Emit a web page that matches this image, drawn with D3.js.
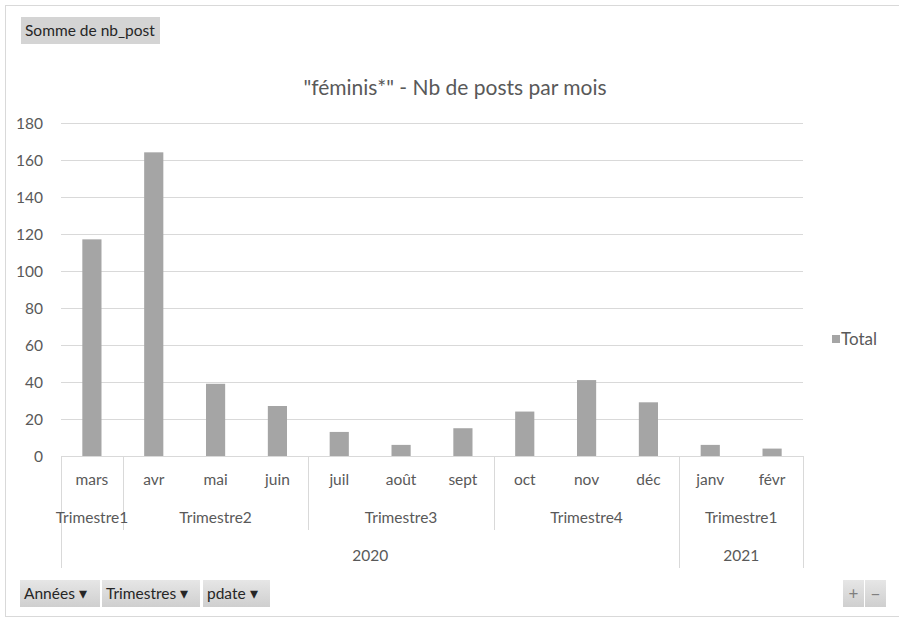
<!DOCTYPE html>
<html><head><meta charset="utf-8">
<script src="https://cdn.jsdelivr.net/npm/d3@7/dist/d3.min.js"></script>
<style>
html,body{margin:0;padding:0;background:#fff;}
svg text{font-family:Lato,"Open Sans",sans-serif;fill:#595959;}
</style></head>
<body><svg id="c" width="899" height="620"></svg>
<script>
const months = ["mars","avr","mai","juin","juil","août","sept","oct","nov","déc","janv","févr"];
const values = [117,164,39,27,13,6,15,24,41,29,6,4];
const quarters = [
  {label:"Trimestre1", start:0, end:1},
  {label:"Trimestre2", start:1, end:4},
  {label:"Trimestre3", start:4, end:7},
  {label:"Trimestre4", start:7, end:10},
  {label:"Trimestre1", start:10, end:12}
];
const years = [
  {label:"2020", start:0, end:10},
  {label:"2021", start:10, end:12}
];
const yTicks = [0,20,40,60,80,100,120,140,160,180];
const title = "\"féminis*\" - Nb de posts par mois";
const seriesName = "Total";
const fieldButtons = ["Années","Trimestres","pdate"];

const svg = d3.select("#c");
const L = 61, R = 803, T = 122.7, B = 456;
const FS = 15.5;

// frame
svg.append("rect").attr("x",5.5).attr("y",5.5).attr("width",900).attr("height",611)
  .attr("fill","none").attr("stroke","#d9d9d9");

const x = d3.scaleBand().domain(d3.range(months.length)).range([L,R]).paddingInner(0.69).paddingOuter(0.345);
const xEdge = d3.scaleLinear().domain([0,months.length]).range([L,R]);
const y = d3.scaleLinear().domain([0,180]).range([B,T]);

// gridlines
svg.append("g").selectAll("line").data(yTicks.filter(d=>d>0)).join("line")
  .attr("x1",L).attr("x2",R).attr("y1",d=>Math.round(y(d))+0.5).attr("y2",d=>Math.round(y(d))+0.5)
  .attr("stroke","#d9d9d9").attr("stroke-width",1);

// y axis labels
const yAxis = d3.axisLeft(y).tickValues(yTicks).tickSize(0).tickPadding(0);
const ya = svg.append("g").attr("transform","translate(43,0)").call(yAxis);
ya.select(".domain").remove();
ya.selectAll("text").attr("font-size",FS).attr("font-family","Lato,sans-serif").attr("fill","#595959").attr("dy","0.35em");

// bars
svg.append("g").selectAll("rect").data(values).join("rect")
  .attr("x",(d,i)=>x(i)).attr("width",x.bandwidth())
  .attr("y",d=>y(d)).attr("height",d=>B-y(d))
  .attr("fill","#a5a5a5");

// baseline
svg.append("line").attr("x1",L).attr("x2",R).attr("y1",B+0.5).attr("y2",B+0.5).attr("stroke","#d9d9d9");

// hierarchical x axis
const g = svg.append("g");
const yMonth = 480, yQ = 518, yYear = 556;
const qBottom = 530, yrBottom = 568;
const div = [];
quarters.forEach(q=>div.push(q.start));
div.push(months.length);
const yearStarts = years.map(d=>d.start).concat([months.length]);
[...new Set(div)].forEach(k=>{
  const isYear = yearStarts.includes(k);
  g.append("line").attr("x1",Math.round(xEdge(k))+0.5).attr("x2",Math.round(xEdge(k))+0.5)
    .attr("y1",B).attr("y2",isYear?yrBottom:qBottom).attr("stroke","#d9d9d9");
});
g.selectAll("text.m").data(months).join("text").attr("class","m")
  .attr("x",(d,i)=>x(i)+x.bandwidth()/2).attr("y",yMonth).attr("dy","0.35em")
  .attr("text-anchor","middle").attr("font-size",FS).text(d=>d);
g.selectAll("text.q").data(quarters).join("text").attr("class","q")
  .attr("x",d=>(xEdge(d.start)+xEdge(d.end))/2).attr("y",yQ).attr("dy","0.35em")
  .attr("text-anchor","middle").attr("font-size",FS).text(d=>d.label);
g.selectAll("text.yr").data(years).join("text").attr("class","yr")
  .attr("x",d=>(xEdge(d.start)+xEdge(d.end))/2).attr("y",yYear).attr("dy","0.35em")
  .attr("text-anchor","middle").attr("font-size",FS).text(d=>d.label);

// title
svg.append("text").attr("x",455).attr("y",88).attr("dy","0.35em").attr("text-anchor","middle")
  .attr("font-size",21).text(title);

// legend
svg.append("rect").attr("x",832).attr("y",335).attr("width",8).attr("height",8).attr("fill","#a5a5a5");
svg.append("text").attr("x",841).attr("y",339).attr("dy","0.35em").attr("font-size",17).text(seriesName);

// top-left field button
svg.append("rect").attr("x",21).attr("y",17).attr("width",139).attr("height",27).attr("fill","#d4d4d4");
svg.append("text").attr("x",25).attr("y",31).attr("dy","0.35em").attr("font-size",15.5).style("fill","#262626").text("Somme de nb_post");

// bottom field buttons
const btnX = [[20,100],[102,200],[203,270]];
const grad = svg.append("defs").append("linearGradient").attr("id","bg").attr("x1",0).attr("x2",0).attr("y1",0).attr("y2",1);
grad.append("stop").attr("offset","0%").attr("stop-color","#e6e6e6");
grad.append("stop").attr("offset","100%").attr("stop-color","#cfcfcf");
fieldButtons.forEach((t,i)=>{
  const [a,b] = btnX[i];
  svg.append("rect").attr("x",a).attr("y",580).attr("width",b-a).attr("height",27).attr("fill","url(#bg)");
  svg.append("text").attr("x",a+4).attr("y",594).attr("dy","0.35em").attr("font-size",15.5).style("fill","#262626")
    .text(t + " \u25BE");
});
// +/- buttons
[["+",843],["\u2212",865]].forEach(([t,a])=>{
  svg.append("rect").attr("x",a).attr("y",580).attr("width",21).attr("height",27).attr("fill","url(#bg)");
  svg.append("text").attr("x",a+10.5).attr("y",594).attr("dy","0.35em").attr("text-anchor","middle")
    .attr("font-size",17).style("fill","#7f7f7f").text(t);
});
</script></body></html>
